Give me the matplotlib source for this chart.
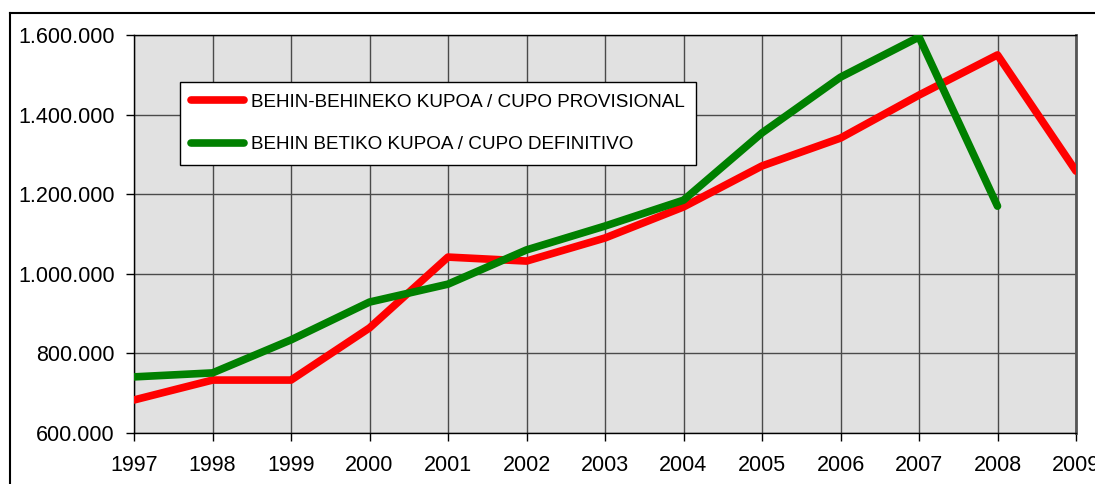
import matplotlib

matplotlib.use("Agg")
import matplotlib.pyplot as plt
from matplotlib.lines import Line2D
from matplotlib.ticker import FuncFormatter

years = list(range(1997, 2010))
provisional = [683000, 733000, 733000, 864000, 1042000, 1032000, 1090000,
               1168000, 1271000, 1341000, 1449000, 1550000, 1258000]
definitive_years = list(range(1997, 2009))
definitive = [741000, 751000, 834000, 929000, 974000, 1060000, 1120000,
              1185000, 1354000, 1494000, 1595000, 1170000]
yticks = [600000, 800000, 1000000, 1200000, 1400000, 1600000]
labels = ["BEHIN-BEHINEKO KUPOA / CUPO PROVISIONAL",
          "BEHIN BETIKO KUPOA / CUPO DEFINITIVO"]

plt.rcParams["font.family"] = ["Liberation Sans", "DejaVu Sans"]

fig = plt.figure(figsize=(10.95, 4.84), dpi=100)
# outer chart border (cropped at right and bottom)
fig.add_artist(Line2D([10 / 1095, 10 / 1095], [0, 1 - 13 / 484],
                      transform=fig.transFigure, color="black", lw=1.5))
fig.add_artist(Line2D([10 / 1095, 1], [1 - 13 / 484, 1 - 13 / 484],
                      transform=fig.transFigure, color="black", lw=1.5))

ax = fig.add_axes([134 / 1095, 1 - 433 / 484, 942 / 1095, 398 / 484])
ax.set_facecolor("#e1e1e1")
ax.plot(years, provisional, color="#ff0000", lw=5.5,
        solid_capstyle="round", solid_joinstyle="round", label=labels[0],
        zorder=3)
ax.plot(definitive_years, definitive, color="#008000", lw=5.5,
        solid_capstyle="round", solid_joinstyle="round", label=labels[1],
        zorder=3)

ax.set_xlim(1997, 2009)
ax.set_ylim(600000, 1600000)
ax.set_xticks(years)
ax.set_yticks(yticks)
ax.yaxis.set_major_formatter(
    FuncFormatter(lambda v, _: f"{int(v):,}".replace(",", ".")))
ax.grid(True, color="#4a4a4a", lw=1)
ax.set_axisbelow(True)
ax.tick_params(axis="both", length=6, width=1, color="black",
               labelsize=15.5)
ax.tick_params(axis="x", pad=10)
ax.tick_params(axis="y", pad=8)
for s in ["top", "left", "bottom"]:
    ax.spines[s].set_color("black")
    ax.spines[s].set_linewidth(1)
ax.spines["right"].set_color("#555555")
ax.spines["right"].set_linewidth(2)

leg = ax.legend(loc="upper left", bbox_to_anchor=(180 / 1095, 1 - 82 / 484),
                bbox_transform=fig.transFigure, borderaxespad=0,
                fancybox=False, framealpha=1, edgecolor="black",
                fontsize=13.6, handlelength=2.8, handletextpad=0.35,
                labelspacing=1.35, borderpad=0.6)
leg.get_frame().set_linewidth(1)
for h in leg.get_lines():
    h.set_solid_capstyle("round")

fig.savefig("out.png", dpi=100)
